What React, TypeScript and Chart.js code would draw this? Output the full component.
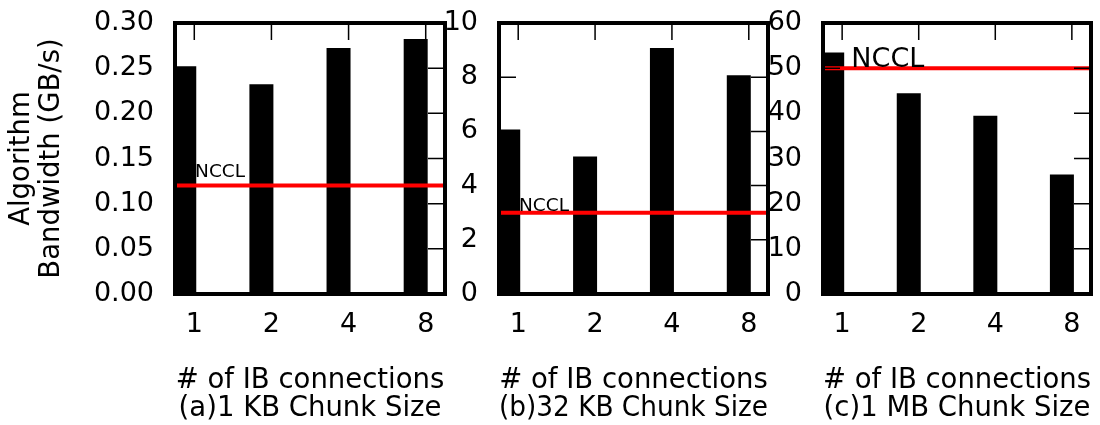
import React, { useEffect, useRef } from 'react';
import { Chart, registerables } from 'chart.js';

Chart.register(...registerables);

// ---- data ----
const CATEGORIES = ['1', '2', '4', '8'];
const BW_1KB = [0.25, 0.23, 0.27, 0.28];
const BW_32KB = [6, 5, 9, 8];
const BW_1MB = [53, 44, 39, 26];
const NCCL_BW = [0.12, 3, 50];
const Y_MAX = [0.3, 10, 60];
const Y_STEP = [0.05, 2, 10];
const Y_DECIMALS = [2, 0, 0];
const X_TITLE = '# of IB connections';
const SUBTITLES = ['(a)1 KB Chunk Size', '(b)32 KB Chunk Size', '(c)1 MB Chunk Size'];
const Y_TITLE = ['Algorithm', 'Bandwidth (GB/s)'];
const NCCL_TEXT = 'NCCL';
const NCCL_TEXT_X = [0.01, 0.01, 0.12];
const NCCL_TEXT_Y = [0.13, 3.05, 50.3];
const SERIES = [BW_1KB, BW_32KB, BW_1MB];

const X_MIN = -0.25;
const X_MAX = 3.25;
const BAR_SHIFT = -0.13;
const FONT = '"DejaVu Sans", sans-serif';

// layout of the three panels (canvas left, canvas width, y-axis width, right padding, NCCL font size)
const PANELS = [
  { left: 0, width: 460, yWidth: 175, padRight: 15, labelSize: 18.5, yTitle: true },
  { left: 430, width: 360, yWidth: 69, padRight: 22, labelSize: 18.5, yTitle: false },
  { left: 760, width: 340, yWidth: 63, padRight: 9, labelSize: 27, yTitle: false },
];

const framePlugin = {
  id: 'frame',
  afterDatasetsDraw(chart: any, _args: any, opts: any) {
    const { ctx, chartArea: a, scales } = chart;
    const x = scales.x;
    const y = scales.y;
    ctx.save();
    // NCCL label
    ctx.fillStyle = '#000';
    ctx.font = `${opts.labelSize}px ${FONT}`;
    ctx.textAlign = 'left';
    ctx.textBaseline = 'alphabetic';
    ctx.fillText(NCCL_TEXT, x.getPixelForValue(opts.labelX), y.getPixelForValue(opts.labelY));
    // inward ticks
    const TL = 17;
    ctx.strokeStyle = '#000';
    ctx.lineWidth = 1.5;
    ctx.beginPath();
    y.ticks.forEach((t: any) => {
      const py = y.getPixelForValue(t.value);
      ctx.moveTo(a.left, py);
      ctx.lineTo(a.left + TL, py);
      ctx.moveTo(a.right, py);
      ctx.lineTo(a.right - TL, py);
    });
    x.ticks.forEach((t: any) => {
      const px = x.getPixelForValue(t.value);
      ctx.moveTo(px, a.top);
      ctx.lineTo(px, a.top + TL);
      ctx.moveTo(px, a.bottom);
      ctx.lineTo(px, a.bottom - TL);
    });
    ctx.stroke();
    // frame
    ctx.lineWidth = 4;
    ctx.strokeRect(a.left, a.top, a.right - a.left, a.bottom - a.top);
    ctx.restore();
  },
};

function Panel({ idx }: { idx: number }) {
  const ref = useRef<HTMLCanvasElement>(null);
  const p = PANELS[idx];
  useEffect(() => {
    if (!ref.current) return;
    const values = SERIES[idx];
    const chart = new Chart(ref.current, {
      type: 'bar',
      data: {
        datasets: [
          {
            type: 'line',
            data: [
              { x: X_MIN, y: NCCL_BW[idx] },
              { x: X_MAX, y: NCCL_BW[idx] },
            ],
            borderColor: '#ff0000',
            borderWidth: 4,
            pointRadius: 0,
            order: 0,
          } as any,
          {
            type: 'bar',
            data: values.map((v, i) => ({ x: i + BAR_SHIFT, y: v })),
            backgroundColor: '#000',
            borderWidth: 0,
            barThickness: 20,
            inflateAmount: 2,
            order: 1,
          } as any,
        ],
      },
      options: {
        responsive: false,
        animation: false,
        layout: { padding: { top: 23, right: p.padRight, left: 0, bottom: 0 } },
        plugins: {
          legend: { display: false },
          tooltip: { enabled: false },
          frame: { labelSize: p.labelSize, labelX: NCCL_TEXT_X[idx], labelY: NCCL_TEXT_Y[idx] },
        } as any,
        scales: {
          x: {
            type: 'linear',
            min: X_MIN,
            max: X_MAX,
            offset: false,
            grid: { display: false, drawTicks: false, offset: false },
            border: { display: false },
            afterBuildTicks: (s: any) => {
              s.ticks = CATEGORIES.map((_, i) => ({ value: i }));
            },
            afterFit: (s: any) => {
              s.height = 131;
              s.paddingLeft = 0;
              s.paddingRight = 0;
            },
            ticks: {
              autoSkip: false,
              maxRotation: 0,
              padding: 15,
              color: '#000',
              font: { family: FONT, size: 27 },
              callback: (v: any) => CATEGORIES[v as number],
            },
            title: {
              display: true,
              text: [X_TITLE, SUBTITLES[idx]],
              color: '#000',
              font: { family: FONT, size: 27.5, lineHeight: 28 / 27.5 },
              padding: { top: 0, bottom: 2 },
            },
          },
          y: {
            type: 'linear',
            min: 0,
            max: Y_MAX[idx],
            grid: { display: false, drawTicks: false },
            border: { display: false },
            afterFit: (s: any) => {
              s.width = p.yWidth;
              s.paddingTop = 0;
              s.paddingBottom = 0;
            },
            ticks: {
              stepSize: Y_STEP[idx],
              padding: 21,
              color: '#000',
              font: { family: FONT, size: 27 },
              callback: (v: any) => Number(v).toFixed(Y_DECIMALS[idx]),
            },
            title: {
              display: p.yTitle,
              text: Y_TITLE,
              color: '#000',
              font: { family: FONT, size: 27.5, lineHeight: 30 / 27.5 },
              padding: { top: 7, bottom: 0 },
            },
          },
        },
      },
      plugins: [framePlugin],
    });
    return () => chart.destroy();
  }, [idx]);
  return (
    <canvas
      ref={ref}
      width={p.width}
      height={425}
      style={{ position: 'absolute', left: p.left, top: 0, width: p.width, height: 425 }}
    />
  );
}

export default function App() {
  return (
    <div style={{ position: 'fixed', left: 0, top: 0, width: 1100, height: 425, background: '#fff' }}>
      <Panel idx={0} />
      <Panel idx={1} />
      <Panel idx={2} />
    </div>
  );
}
